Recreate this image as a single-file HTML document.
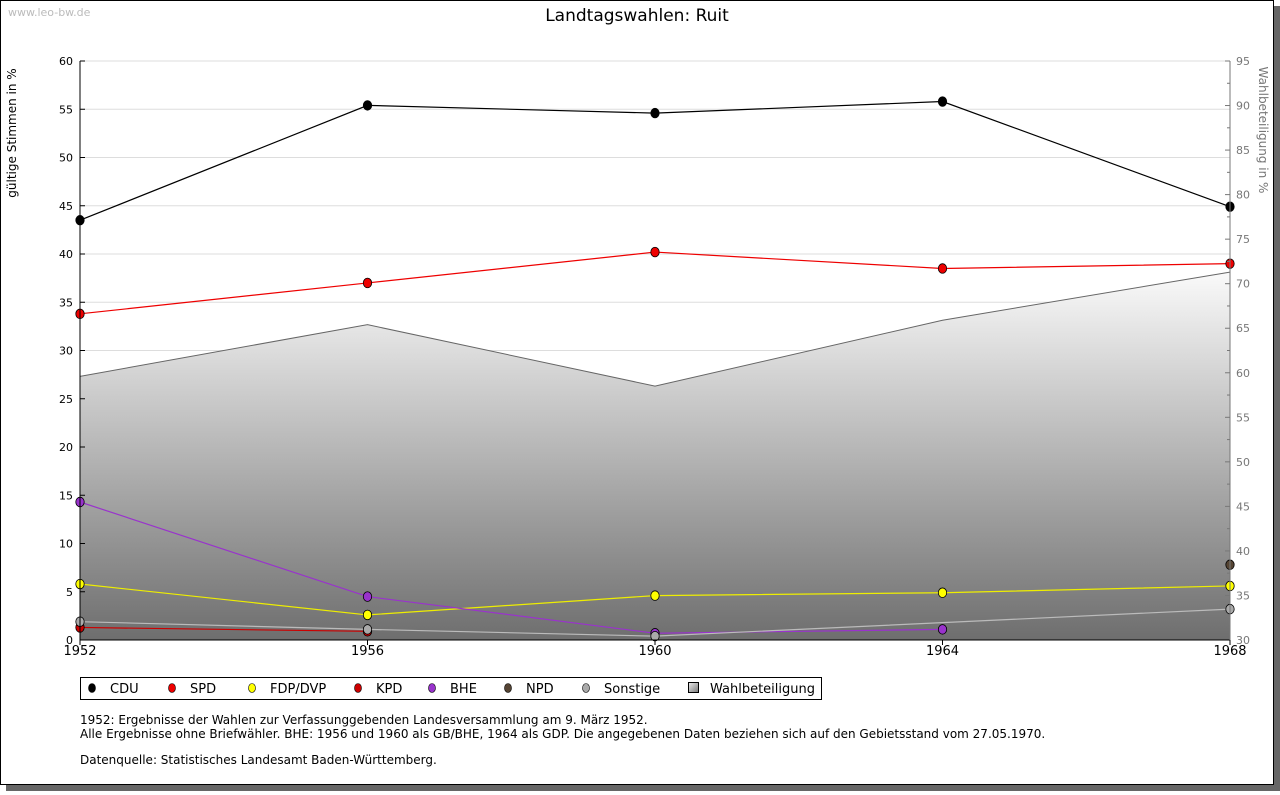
<!DOCTYPE html>
<html><head><meta charset="utf-8"><style>
body{margin:0;background:#fff;width:1280px;height:791px;overflow:hidden;font-family:"DejaVu Sans","Liberation Sans",sans-serif}
</style></head><body>
<svg id="c" width="1280" height="791" xmlns="http://www.w3.org/2000/svg">
<defs>
<linearGradient id="g" x1="0" y1="0" x2="0" y2="1"><stop offset="0" stop-color="#fafafa"/><stop offset="1" stop-color="#6e6e6e"/></linearGradient>
<linearGradient id="lg" x1="0" y1="0" x2="1" y2="1"><stop offset="0" stop-color="#eee"/><stop offset="1" stop-color="#777"/></linearGradient>
</defs>
<rect x="6" y="785" width="1274" height="6" fill="#666"/>
<rect x="1274" y="6" width="6" height="785" fill="#666"/>
<rect x="0.5" y="0.5" width="1273" height="784" fill="#fff" stroke="#000"/>
<text x="8" y="16" font-size="11" fill="#bbb">www.leo-bw.de</text>
<text x="637" y="21" font-size="17" text-anchor="middle">Landtagswahlen: Ruit</text>
<text transform="translate(16,133) rotate(-90)" font-size="12" text-anchor="middle">gültige Stimmen in %</text>
<text transform="translate(1259,130) rotate(90)" font-size="12" fill="#777" text-anchor="middle">Wahlbeteiligung in %</text>
<g id="grid"></g><g id="area"></g><g id="lines"></g><g id="axes"></g>
<rect x="80.5" y="677.5" width="741" height="22" fill="#fff" stroke="#000"/>
<g id="legend"></g>
<g font-size="12">
<text x="80" y="724">1952: Ergebnisse der Wahlen zur Verfassunggebenden Landesversammlung am 9. März 1952.</text>
<text x="80" y="738">Alle Ergebnisse ohne Briefwähler. BHE: 1956 und 1960 als GB/BHE, 1964 als GDP. Die angegebenen Daten beziehen sich auf den Gebietsstand vom 27.05.1970.</text>
<text x="80" y="764">Datenquelle: Statistisches Landesamt Baden-Württemberg.</text>
</g>
</svg>
<script>
const years=[1952,1956,1960,1964,1968];
const cdu=[43.5,55.4,54.6,55.8,44.9];
const spd=[33.8,37.0,40.2,38.5,39.0];
const fdp=[5.8,2.6,4.6,4.9,5.6];
const kpd=[1.3,0.9,null,null,null];
const bhe=[14.3,4.5,0.7,1.1,null];
const npd=[null,null,null,null,7.8];
const sonst=[1.9,1.1,0.4,null,3.2];
const turnout=[59.6,65.4,58.5,65.9,71.3];
const leftTicks=[0,5,10,15,20,25,30,35,40,45,50,55,60];
const rightTicks=[30,35,40,45,50,55,60,65,70,75,80,85,90,95];
const NS='http://www.w3.org/2000/svg';
const X0=80,X1=1230,Y0=640,Y1=61;
const x=yr=>X0+(yr-1952)/(1968-1952)*(X1-X0);
const y=v=>Y0-v/60*(Y0-Y1);
const y2=v=>Y0-(v-30)/65*(Y0-Y1);
function mk(tag,at,parent){const e=document.createElementNS(NS,tag);for(const k in at)e.setAttribute(k,at[k]);document.getElementById(parent).appendChild(e);return e;}
leftTicks.forEach(t=>{
 if(t>0){const l=mk('line',{x1:X0,x2:X1,y1:y(t),y2:y(t),stroke:'#ddd'},'grid');
 
 }
 const tk=mk('line',{x1:X0,x2:X0+5,y1:y(t),y2:y(t),stroke:'#000'},'axes');
 
 
 const tx=mk('text',{x:X0-7,y:y(t)+4,'font-size':11,'text-anchor':'end'},'axes');tx.textContent=t;
 
 
});
rightTicks.forEach(t=>{
 const tk=mk('line',{x1:X1-5,x2:X1,y1:y2(t),y2:y2(t),stroke:'#777'},'axes');
 
 
 const tx=mk('text',{x:X1+6,y:y2(t)+4,'font-size':11,fill:'#777'},'axes');tx.textContent=t;
 
 
});
for(let t=32.5;t<95;t+=5){const tk=mk('line',{x1:X1-3,x2:X1,y1:y2(t),y2:y2(t),stroke:'#777'},'axes');
 
 }
let d='M'+x(years[0])+','+Y0;years.forEach((yr,i)=>d+=' L'+x(yr)+','+y2(turnout[i]));d+=' L'+x(years[years.length-1])+','+Y0+' Z';
const ar=mk('path',{d:d,fill:'url(#g)'},'area');


const tl=mk('polyline',{points:years.map((yr,i)=>x(yr)+','+y2(turnout[i])).join(' '),fill:'none',stroke:'#666'},'area');


const series=[['cdu',cdu,'#000','#000'],['spd',spd,'#e00','#e00'],['fdp',fdp,'#ee0','#ff0'],['kpd',kpd,'#c00','#c00'],['bhe',bhe,'#93c','#93c'],['npd',npd,'#543','#543'],['sonstige',sonst,'#bbb','#aaa']];
series.forEach(([n,vals,lc,fc])=>{
 const pts=[];vals.forEach((v,i)=>{if(v!==null)pts.push(x(years[i])+','+y(v));});
 const pl=mk('polyline',{points:pts.join(' '),fill:'none',stroke:lc,'stroke-width':1.2},'lines');
 
 
 vals.forEach((v,i)=>{if(v===null)return;
  const cx=x(years[i]),cy=y(v);
  const p=mk('ellipse',{cx:cx,cy:cy,rx:4.2,ry:4.8,fill:fc,stroke:'#000','stroke-width':0.8},'lines');
  
  });
});
const ax=mk('path',{d:`M${X0},${Y1} V${Y0} H${X1}`,fill:'none',stroke:'#000'},'axes');


const ax2=mk('line',{x1:X1,x2:X1,y1:Y1,y2:Y0,stroke:'#777'},'axes');


years.forEach(yr=>{
 const tk=mk('line',{x1:x(yr),x2:x(yr),y1:Y0,y2:Y0+5,stroke:'#000'},'axes');
 
 
 const tx=mk('text',{x:x(yr),y:Y0+15,'font-size':13,'text-anchor':'middle'},'axes');tx.textContent=yr;
 
 
});
const legendItems=[['CDU','#000',92],['SPD','#e00',172],['FDP/DVP','#ff0',252],['KPD','#c00',358],['BHE','#93c',432],['NPD','#543',508],['Sonstige','#aaa',586]];
legendItems.forEach(([t,c,lx])=>{
 const p=mk('ellipse',{cx:lx,cy:688,rx:3.5,ry:4.5,fill:c,stroke:'#000','stroke-width':0.6},'legend');
 
 
 const tx=mk('text',{x:lx+18,y:693,'font-size':13},'legend');tx.textContent=t;
 
 
});
const sq=mk('rect',{x:688.5,y:682.5,width:10,height:10,fill:'url(#lg)',stroke:'#000'},'legend');


const wt=mk('text',{x:710,y:693,'font-size':13},'legend');wt.textContent='Wahlbeteiligung';


</script>
</body></html>
